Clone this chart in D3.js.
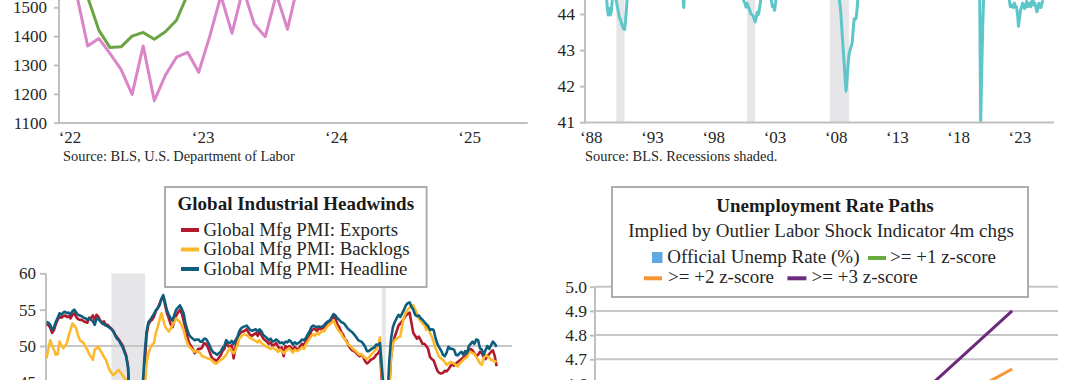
<!DOCTYPE html>
<html><head><meta charset="utf-8">
<script src="https://cdn.jsdelivr.net/npm/d3@7"></script>
<style>
html,body{margin:0;padding:0;background:#fff;}
svg{display:block;}
</style></head><body>
<svg id="c" width="1080" height="380"></svg>
<script>
// ---------- Top-left panel ----------
const tlMonths = ["2022-01","2022-02","2022-03","2022-04","2022-05","2022-06","2022-07","2022-08","2022-09","2022-10","2022-11","2022-12",
                  "2023-01","2023-02","2023-03","2023-04","2023-05","2023-06","2023-07","2023-08","2023-09","2023-10"];
const tlPink  = [1650,1545,1366,1392,1340,1285,1198,1366,1176,1265,1327,1344,1275,1400,1540,1410,1565,1442,1398,1545,1424,1590];
const tlGreen = [1720,1640,1535,1421,1361,1363,1400,1413,1389,1415,1455,1545,1610];
const tlYTicks = [1100,1200,1300,1400,1500];
const tlXTicks = ["2022-01","2023-01","2024-01","2025-01"];
const tlXLabels = ["\u201822","\u201823","\u201824","\u201825"];
const tlSource = "Source: BLS, U.S. Department of Labor";

// ---------- Top-right panel ----------
const trDates = ["1988-01","1989-06","1989-09","1989-10","1989-11","1989-12","1990-01","1990-02","1990-03","1990-04","1990-06","1990-07","1990-08","1990-09","1990-10","1990-11","1990-12","1991-01","1991-02","1991-03","1991-04","1991-05","1991-06",
 "1992-06","1995-11","1995-12","1996-01","1996-02","1998-06",
 "2000-10","2000-12","2001-01","2001-02","2001-03","2001-05","2001-07","2001-09","2001-11","2001-12","2002-01","2002-02","2002-03","2002-05","2002-08",
 "2003-01","2003-03","2003-04","2003-05","2003-06","2003-07","2003-08","2005-06",
 "2008-07","2008-08","2008-09","2008-10","2008-11","2008-12","2009-01","2009-02","2009-03","2009-04","2009-05","2009-06","2009-07","2009-08","2009-09","2009-10","2009-11","2009-12","2010-01","2010-02","2010-03","2010-04",
 "2015-06","2020-02","2020-03","2020-04","2020-05","2020-06","2020-07",
 "2022-07","2022-08","2022-09","2022-10","2022-11","2022-12","2023-01","2023-02","2023-03","2023-04","2023-05","2023-06","2023-07","2023-08","2023-09","2023-10","2023-11","2023-12",
 "2024-01","2024-02","2024-03","2024-04","2024-05","2024-06","2024-07","2024-08","2024-09","2024-10","2024-11","2024-12","2025-01","2025-02","2025-03","2025-04","2025-05"];
const trValues = [44.9,44.8,44.6,44.2,43.97,44.15,43.97,44.05,44.4,44.6,44.5,44.35,44.2,44.05,43.9,43.85,43.75,43.65,43.6,43.57,43.8,44.2,44.6,
 44.9,44.7,44.6,44.18,44.7,44.9,
 44.6,44.35,44.3,44.19,44.3,44.15,44.0,43.95,43.78,43.9,44.05,43.98,44.1,44.5,44.7,
 44.6,44.35,44.2,44.25,44.1,44.3,44.6,44.9,
 44.6,44.5,44.45,44.3,44.0,43.55,43.1,42.7,42.25,41.86,42.2,42.6,42.9,43.0,43.1,43.2,43.55,43.87,43.85,43.9,44.2,44.6,
 44.9,44.6,44.4,41.05,42.5,43.75,44.6,
 44.6,44.38,44.2,44.2,44.25,44.18,44.3,44.2,44.2,44.0,43.66,43.9,44.1,44.2,44.3,44.2,44.15,44.25,
 44.35,44.2,44.25,44.3,44.2,44.35,44.4,44.25,44.3,44.2,44.06,44.15,44.3,44.2,44.18,44.3,44.38];
const trRecessions = [[1990.5,1991.17],[2001.17,2001.83],[2007.92,2009.5],[2020.08,2020.25]];
const trYTicks = [41,42,43,44];
const trXTicks = [1988,1993,1998,2003,2008,2013,2018,2023];
const trXLabels = ["\u201888","\u201893","\u201898","\u201803","\u201808","\u201813","\u201818","\u201823"];
const trSource = "Source: BLS. Recessions shaded.";

// ---------- Bottom-left panel (monthly from Jan 2005) ----------
const blStart = 2005;
const blHeadline = [
 53.3,53.2,52.9,52.2,52.6,53.3,53.9,54.5,54.3,54.6,54.7,54.5,
 54.6,54.3,54.8,55.0,54.6,54.3,54.2,54.1,53.9,53.8,53.6,53.8,
 53.6,53.4,52.9,53.8,53.7,53.4,53.1,53.0,52.8,52.7,52.5,52.3,
 52.0,51.5,51.0,50.8,50.3,49.9,49.2,48.5,47.0,42.0,37.4,33.7,
 34.5,35.0,36.9,40.5,45.0,49.0,52.0,53.3,53.6,54.0,54.4,54.9,
 55.2,55.6,56.5,57.0,56.0,54.9,54.3,53.8,53.5,54.3,55.0,55.3,
 55.6,55.1,54.5,53.1,52.2,51.5,51.2,51.0,50.8,50.9,50.9,50.6,
 50.6,51.0,51.0,50.6,50.1,49.5,49.1,49.0,48.8,49.0,49.2,49.7,
 50.0,50.8,50.5,50.4,50.7,50.3,50.8,51.2,52.0,52.4,52.6,52.7,
 52.8,52.5,52.2,52.1,52.2,52.3,52.0,52.3,52.0,51.5,51.3,51.1,
 50.8,51.0,50.6,50.7,50.9,50.7,50.4,50.5,50.3,50.6,50.5,50.8,
 50.6,50.2,50.5,50.3,50.4,50.6,50.9,50.8,51.1,51.6,52.0,52.6,
 52.8,52.7,52.6,52.7,52.6,52.7,52.9,53.2,53.4,53.5,54.0,54.4,
 54.2,53.8,53.6,53.3,53.2,53.0,52.6,52.3,52.1,51.9,51.6,51.3,
 50.9,50.7,50.6,50.3,49.9,49.3,49.3,49.5,49.7,49.8,50.2,50.1,
 50.4,47.2,44.0,39.6,42.4,47.8,51.0,52.6,53.3,53.8,54.3,54.0,
 54.5,55.0,55.6,55.9,56.0,55.4,55.0,54.3,54.1,54.2,53.8,53.6,
 53.3,53.0,52.7,52.2,52.3,52.2,51.1,50.3,49.8,49.4,48.8,48.6,
 49.1,49.9,49.6,49.6,49.5,48.8,48.7,49.0,49.2,48.8,49.3,49.0,
 50.0,50.3,50.6,50.3,50.9,50.8,49.7,49.5,48.8,49.4,50.0,49.6,
 50.1,50.6,50.3,49.9];
const blExports = [
 53.0,52.9,52.5,51.8,52.2,53.0,53.6,54.0,53.9,54.1,54.2,54.0,
 54.1,53.8,54.3,54.5,54.0,53.7,53.6,53.6,53.4,53.3,53.2,53.9,
 53.8,54.2,53.6,54.3,54.0,53.5,53.2,53.4,52.9,52.9,52.6,52.4,
 52.1,51.6,51.2,50.9,50.5,50.1,49.4,48.7,47.2,41.0,35.0,31.0,
 31.5,32.5,34.5,38.5,43.0,47.5,51.5,53.0,53.4,53.6,54.0,54.8,
 55.2,55.8,56.4,56.8,55.6,54.5,53.8,53.0,52.6,53.5,54.2,54.6,
 55.0,54.5,53.5,52.4,51.3,50.4,50.0,49.6,49.0,49.3,49.6,49.6,
 49.8,50.4,50.3,49.9,49.2,48.5,48.2,48.1,47.9,48.4,48.7,49.3,
 49.6,50.5,50.0,49.9,50.1,48.3,49.8,51.0,51.6,51.9,52.0,52.1,
 52.3,51.9,51.5,51.4,51.6,51.8,51.4,51.9,51.5,51.0,50.8,50.6,
 50.3,50.5,50.0,50.2,50.4,49.9,49.6,49.8,48.6,50.0,49.7,50.0,
 49.8,49.4,49.9,49.6,49.5,50.0,50.3,50.1,50.7,51.2,51.4,52.1,
 52.3,52.4,52.0,52.5,52.3,52.4,52.6,52.9,53.3,53.4,53.8,54.0,
 53.7,53.0,52.6,52.0,51.6,51.0,50.7,50.1,49.7,49.4,49.3,49.1,
 48.8,48.6,48.8,48.5,47.9,47.6,47.8,48.1,48.2,48.4,48.8,49.0,
 49.5,45.0,40.0,31.0,35.0,44.0,48.5,50.4,51.3,52.0,52.8,53.1,
 53.4,53.8,54.2,54.4,54.6,53.2,51.8,51.4,51.0,51.3,50.8,50.3,
 50.3,50.0,49.6,48.5,48.2,48.0,47.3,46.6,46.3,46.2,46.3,46.6,
 46.5,46.8,47.2,47.5,47.3,47.6,47.8,48.0,48.2,48.4,48.6,49.0,
 49.3,49.6,49.4,49.0,48.6,48.8,49.2,49.0,48.5,48.2,48.6,48.9,
 49.2,49.4,48.6,47.2];
const blBacklogs = [
 48.3,49.6,50.8,50.0,49.5,48.8,48.9,50.6,50.1,49.7,50.0,50.4,
 51.5,52.3,53.1,52.8,52.4,51.5,50.8,50.6,50.4,49.9,49.5,48.9,
 48.5,48.1,49.5,49.7,49.9,49.4,49.0,48.5,48.1,47.4,46.7,46.3,
 46.0,46.2,46.5,46.7,46.3,46.0,45.6,45.3,44.4,39.5,34.0,31.0,
 31.0,32.0,33.5,36.5,40.5,44.0,47.6,49.0,49.7,50.2,50.4,51.8,
 52.6,53.6,54.5,53.6,52.7,52.3,52.0,52.4,52.9,53.4,53.8,53.5,
 53.3,52.8,52.2,51.1,50.4,49.9,49.7,49.4,49.2,49.3,49.2,49.0,
 48.6,48.5,48.4,48.3,48.2,48.1,47.8,47.6,47.6,47.9,48.1,48.2,
 48.5,48.8,49.3,49.7,49.3,49.0,49.4,50.1,51.0,51.3,51.5,51.6,
 51.5,51.3,51.1,51.0,50.8,50.7,50.5,50.8,50.4,50.2,50.0,49.9,
 49.7,49.6,49.8,49.6,49.5,49.2,49.5,49.3,49.0,49.3,49.5,49.7,
 49.4,49.1,49.5,49.3,49.4,49.6,49.8,49.6,50.2,50.6,51.0,51.4,
 51.6,51.4,51.8,51.6,51.9,52.1,52.0,52.5,52.8,53.0,53.2,53.5,
 52.9,52.4,52.0,51.8,51.2,51.0,50.5,50.2,50.0,49.7,49.5,49.3,
 49.0,48.8,48.9,48.6,48.4,48.2,48.4,48.7,49.0,49.3,49.6,50.0,
 51.2,46.0,42.0,36.0,38.0,44.5,48.5,50.4,50.8,51.0,51.2,51.3,
 52.8,54.0,54.6,55.0,55.3,55.5,55.6,55.0,54.5,53.8,53.4,53.1,
 52.9,52.2,52.9,51.8,51.3,50.5,49.7,49.1,48.5,48.3,48.1,47.8,
 47.4,47.6,47.8,47.7,47.6,47.4,47.2,47.6,47.8,48.1,48.3,48.5,
 49.0,49.2,49.0,48.9,48.5,48.1,47.6,47.4,48.3,48.8,48.6,48.4,
 48.1,48.0,47.9,47.8];
const blRecessions = [["2007-12","2009-06"],["2020-02","2020-04"]];
const blYTicks = [45,50,55,60];
const blTitle = "Global Industrial Headwinds";
const blSeriesNames = ["Global Mfg PMI: Exports","Global Mfg PMI: Backlogs","Global Mfg PMI: Headline"];

// ---------- Bottom-right panel ----------
const brMonths = ["2025-01","2025-02","2025-03","2025-04","2025-05","2025-06","2025-07","2025-08","2025-09","2025-10","2025-11","2025-12"];
const brOfficial = [4.0,4.1,4.2,4.2,4.2,4.1,4.2,4.3];
const brPathMonths = ["2025-08","2025-12"];
const brZ1 = [4.3,4.5];
const brZ2 = [4.3,4.66];
const brZ3 = [4.3,4.9];
const brYTicks = [4.6,4.7,4.8,4.9,5.0];
const brTitle = "Unemployment Rate Paths";
const brSubtitle = "Implied by Outlier Labor Shock Indicator 4m chgs";
const brNames = ["Official Unemp Rate (%)",">= +1 z-score",">= +2 z-score",">= +3 z-score"];

// ================= drawing =================
const FONT = '"Liberation Serif","Times New Roman",serif';
const AXIS = "#c0c0c0", TXT = "#262626";
const svg = d3.select("#c").attr("font-family", FONT);
svg.append("rect").attr("width",1080).attr("height",380).attr("fill","#fff");

function styleAxis(g, fs){
  g.select(".domain").remove();
  g.selectAll(".tick line").attr("stroke", AXIS).attr("stroke-width", 2);
  g.selectAll(".tick text").attr("fill", TXT).attr("font-size", fs).attr("font-family", FONT);
}
const ym = s => s.split("-").map(Number);

// ---- Top-left ----
{
  const idx = s => { const [y,m] = ym(s); return (y-2022)*12 + m - 1; };
  const x = d3.scaleLinear().domain([-0.586, 41.64]).range([59, 527.7]);
  const y = d3.scaleLinear().domain([1100,1500]).range([122.7, 7.3]);
  const g = svg.append("g");
  g.append("g").attr("transform","translate(59,0)")
    .call(d3.axisLeft(y).tickValues(tlYTicks).tickSize(5).tickPadding(7).tickFormat(d3.format("d")))
    .call(a=>styleAxis(a,17));
  g.append("line").attr("x1",59).attr("x2",59).attr("y1",-5).attr("y2",124).attr("stroke",AXIS).attr("stroke-width",2);
  g.append("line").attr("x1",58).attr("x2",527.7).attr("y1",123).attr("y2",123).attr("stroke",AXIS).attr("stroke-width",2);
  g.append("g").attr("transform","translate(0,123)")
    .call(d3.axisBottom(x).tickValues(tlXTicks.map(idx)).tickSize(0).tickPadding(8).tickFormat((d,i)=>tlXLabels[i]))
    .call(a=>styleAxis(a,17)).selectAll(".tick text").attr("dx",4);
  const line = d3.line().x((d,i)=>x(idx(tlMonths[i]))).y(d=>y(d));
  g.append("path").attr("d",line(tlPink)).attr("fill","none").attr("stroke","#d985c8").attr("stroke-width",3).attr("stroke-linejoin","round");
  g.append("path").attr("d",line(tlGreen)).attr("fill","none").attr("stroke","#6aa443").attr("stroke-width",3).attr("stroke-linejoin","round");
  g.append("text").attr("x",63).attr("y",161).attr("font-size",14.4).attr("fill",TXT).text(tlSource);
}

// ---- Top-right ----
{
  const dec = s => { const [y,m] = ym(s); return y + (m-1)/12; };
  const x = d3.scaleLinear().domain([1987.94, 2026.23]).range([585, 1054]);
  const y = d3.scaleLinear().domain([41,44]).range([122.2, 14]);
  const g = svg.append("g");
  g.selectAll("rect.rec").data(trRecessions).join("rect")
    .attr("x",d=>x(d[0])).attr("width",d=>Math.max(2,x(d[1])-x(d[0])))
    .attr("y",0).attr("height",122.5).attr("fill","#e6e6e8");
  g.append("g").attr("transform","translate(585,0)")
    .call(d3.axisLeft(y).tickValues(trYTicks).tickSize(5).tickPadding(5).tickFormat(d3.format("d")))
    .call(a=>styleAxis(a,17.5));
  g.append("line").attr("x1",585).attr("x2",585).attr("y1",-5).attr("y2",123.5).attr("stroke",AXIS).attr("stroke-width",2);
  g.append("line").attr("x1",584).attr("x2",1054).attr("y1",122.5).attr("y2",122.5).attr("stroke",AXIS).attr("stroke-width",2);
  g.append("g").attr("transform","translate(0,122.5)")
    .call(d3.axisBottom(x).tickValues(trXTicks).tickSize(0).tickPadding(8).tickFormat((d,i)=>trXLabels[i]))
    .call(a=>styleAxis(a,17)).selectAll(".tick text").attr("dx",5);
  const line = d3.line().x((d,i)=>x(dec(trDates[i]))).y(d=>y(d));
  g.append("path").attr("d",line(trValues)).attr("fill","none").attr("stroke","#5cc6c9").attr("stroke-width",3).attr("stroke-linejoin","round");
  g.append("text").attr("x",585).attr("y",161).attr("font-size",14.4).attr("fill",TXT).text(trSource);
}

// ---- Bottom-left ----
{
  const idx = s => { const [y,m] = ym(s); return (y-blStart)*12 + m - 1; };
  const x = d3.scaleLinear().domain([-0.3, 251.3]).range([46, 512]);
  const y = d3.scaleLinear().domain([50,60]).range([346, 273.3]);
  const g = svg.append("g");
  g.selectAll("rect.rec").data(blRecessions).join("rect")
    .attr("x",d=>x(idx(d[0]))).attr("width",d=>x(idx(d[1])+0.2)-x(idx(d[0])))
    .attr("y",y(60)).attr("height",400-y(60)).attr("fill","#e6e6e8");
  g.append("line").attr("x1",46).attr("x2",512).attr("y1",y(50)).attr("y2",y(50)).attr("stroke","#c6c6c6").attr("stroke-width",2);
  g.append("g").attr("transform","translate(46,0)")
    .call(d3.axisLeft(y).tickValues(blYTicks).tickSize(6).tickPadding(4).tickFormat(d3.format("d")))
    .call(a=>styleAxis(a,17));
  g.append("line").attr("x1",46).attr("x2",46).attr("y1",y(60)).attr("y2",385).attr("stroke",AXIS).attr("stroke-width",2);
  const line = d3.line().x((d,i)=>x(i)).y(d=>y(d));
  const cols = ["#b3192d","#fdb92c","#0d5e7d"];
  [blExports, blBacklogs, blHeadline].forEach((s,k)=>{
    g.append("path").attr("d",line(s)).attr("fill","none").attr("stroke",cols[k]).attr("stroke-width",2.6).attr("stroke-linejoin","round");
  });
  // legend
  const L = g.append("g");
  L.append("rect").attr("x",165).attr("y",187).attr("width",261.6).attr("height",100).attr("fill","#fff").attr("stroke","#a6a6a6").attr("stroke-width",1.8);
  L.append("text").attr("x",295.8).attr("y",210).attr("text-anchor","middle").attr("font-weight","bold").attr("font-size",19).attr("fill","#1a1a1a").text(blTitle);
  const rows = [230, 249.5, 269];
  blSeriesNames.forEach((n,k)=>{
    L.append("line").attr("x1",181).attr("x2",199).attr("y1",rows[k]).attr("y2",rows[k]).attr("stroke",cols[k]).attr("stroke-width",4);
    L.append("text").attr("x",203.5).attr("y",rows[k]+5.5).attr("font-size",18.8).attr("fill",TXT).text(n);
  });
}

// ---- Bottom-right ----
{
  const idx = s => { const [y,m] = ym(s); return (y-2025)*12 + m - 1; };
  const x = d3.scaleLinear().domain([0.536, 12.15]).range([595, 1058]);
  const y = d3.scaleLinear().domain([4.7,5.0]).range([359.3, 286.7]);
  const g = svg.append("g");
  g.selectAll("line.grid").data(brYTicks).join("line")
    .attr("x1",595).attr("x2",1058).attr("y1",d=>y(d)).attr("y2",d=>y(d)).attr("stroke","#c6c6c6").attr("stroke-width",2);
  g.append("g").attr("transform","translate(595,0)")
    .call(d3.axisLeft(y).tickValues(brYTicks).tickSize(5).tickPadding(3).tickFormat(d3.format(".1f")))
    .call(a=>styleAxis(a,17.5));
  g.append("line").attr("x1",595).attr("x2",595).attr("y1",y(5.0)).attr("y2",385).attr("stroke",AXIS).attr("stroke-width",2);
  // official rate bars (below visible range)
  g.selectAll("rect.bar").data(brOfficial).join("rect")
    .attr("x",(d,i)=>x(idx(brMonths[i]))-12).attr("width",24)
    .attr("y",d=>y(d)).attr("height",d=>Math.max(0,y(3.5)-y(d))).attr("fill","#5fa8e0");
  const line = d3.line().x((d,i)=>x(idx(brPathMonths[i]))).y(d=>y(d));
  const pc = ["#6aaa3f","#f79434","#6b2a7b"];
  [brZ1, brZ2, brZ3].forEach((s,k)=>{
    g.append("path").attr("d",line(s)).attr("fill","none").attr("stroke",pc[k]).attr("stroke-width",3);
  });
  // legend
  const L = g.append("g");
  L.append("rect").attr("x",612).attr("y",187).attr("width",416).attr("height",110).attr("fill","#fff").attr("stroke","#a6a6a6").attr("stroke-width",1.8);
  L.append("text").attr("x",825).attr("y",212).attr("text-anchor","middle").attr("font-weight","bold").attr("font-size",19).attr("fill","#1a1a1a").text(brTitle);
  L.append("text").attr("x",821).attr("y",236.5).attr("text-anchor","middle").attr("font-size",19).attr("fill",TXT).text(brSubtitle);
  L.append("rect").attr("x",652).attr("y",252).attr("width",10.5).attr("height",11).attr("fill","#5fa8e0");
  L.append("text").attr("x",667.3).attr("y",262.5).attr("font-size",19).attr("fill",TXT).text(brNames[0]);
  L.append("line").attr("x1",868).attr("x2",886).attr("y1",258).attr("y2",258).attr("stroke",pc[0]).attr("stroke-width",4);
  L.append("text").attr("x",890).attr("y",262.5).attr("font-size",19).attr("fill",TXT).text(brNames[1]);
  L.append("line").attr("x1",644).attr("x2",662).attr("y1",278.3).attr("y2",278.3).attr("stroke",pc[1]).attr("stroke-width",4);
  L.append("text").attr("x",668).attr("y",283).attr("font-size",19).attr("fill",TXT).text(brNames[2]);
  L.append("line").attr("x1",787.4).attr("x2",806.4).attr("y1",278.3).attr("y2",278.3).attr("stroke",pc[2]).attr("stroke-width",4);
  L.append("text").attr("x",811.6).attr("y",283).attr("font-size",19).attr("fill",TXT).text(brNames[3]);
}
</script></body></html>
